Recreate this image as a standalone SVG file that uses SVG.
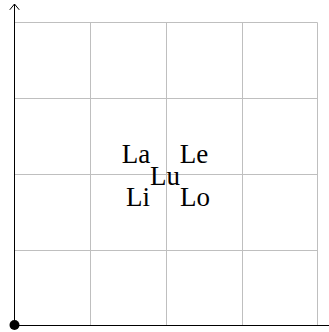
<svg xmlns="http://www.w3.org/2000/svg" width="329" height="332" viewBox="0 0 329 332">
<style>
.grid{stroke:#bfbfbf;stroke-width:1;fill:none}
.axis{stroke:#000;stroke-width:1;fill:none}
.lbl{font-family:"Liberation Serif","DejaVu Serif",serif;font-size:27px;fill:#000;text-anchor:middle}
</style>
<g id="grid">
<path class="grid" d="M14.5 22.5H317.5M14.5 98.5H317.5M14.5 174.5H317.5M14.5 250.5H317.5M90.5 22.5V325M166.5 22.5V325M242.5 22.5V325M317.5 22.5V325"/>
</g>
<g id="connectors">
<path class="axis" d="M14.5 325V4"/>
<path class="axis" d="M10 9.5L14.5 4L19 9.5" stroke-linecap="round" stroke-linejoin="round"/>
<path class="axis" d="M14.5 325.5H329"/>
</g>
<g id="origin"><circle cx="14.5" cy="325" r="5" fill="#000"/></g>
<g id="La"><text class="lbl" x="136" y="163">La</text></g>
<g id="Le"><text class="lbl" x="194" y="163">Le</text></g>
<g id="Lu"><text class="lbl" x="165" y="185">Lu</text></g>
<g id="Li"><text class="lbl" x="138" y="206">Li</text></g>
<g id="Lo"><text class="lbl" x="195" y="206">Lo</text></g>
</svg>
